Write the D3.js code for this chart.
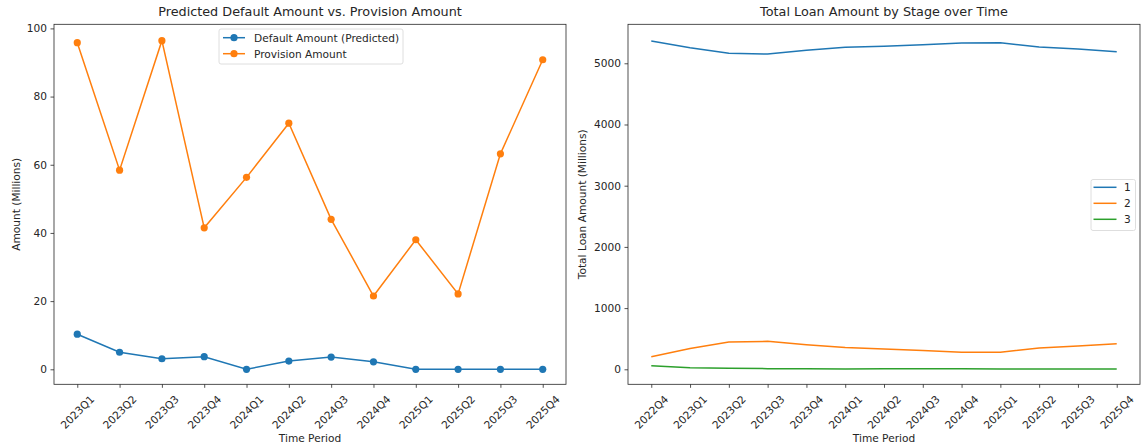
<!DOCTYPE html>
<html>
<head>
<meta charset="utf-8">
<script src="https://cdn.jsdelivr.net/npm/d3@7"></script>
<style>
  body { margin: 0; background: #fff; }
  svg { display: block; font-family: "DejaVu Sans", sans-serif; }
</style>
</head>
<body>
<svg id="chart" width="1141" height="448"></svg>
<script>
// ---- Data ----
const periodsLeft = ["2023Q1","2023Q2","2023Q3","2023Q4","2024Q1","2024Q2","2024Q3","2024Q4","2025Q1","2025Q2","2025Q3","2025Q4"];
const defaultAmount = [10.3, 5.0, 3.1, 3.7, 0.0, 2.4, 3.6, 2.2, 0.0, 0.0, 0.0, 0.0];
const provisionAmount = [95.8, 58.4, 96.4, 41.5, 56.3, 72.2, 44.0, 21.5, 38.0, 22.1, 63.2, 90.8];
const leftYTicks = [0, 20, 40, 60, 80, 100];

const periodsRight = ["2022Q4","2023Q1","2023Q2","2023Q3","2023Q4","2024Q1","2024Q2","2024Q3","2024Q4","2025Q1","2025Q2","2025Q3","2025Q4"];
const stage1 = [5363, 5255, 5163, 5152, 5212, 5261, 5277, 5304, 5333, 5337, 5266, 5233, 5190];
const stage2 = [204, 339, 446, 457, 403, 355, 333, 306, 280, 280, 349, 382, 419];
const stage3 = [59, 27, 16, 11, 11, 5, 10, 11, 8, 4, 4, 3, 3];
const stageNames = ["1", "2", "3"];
const rightYTicks = [0, 1000, 2000, 3000, 4000, 5000];

const C = ["#1f77b4", "#ff7f0e", "#2ca02c"];
const svg = d3.select("#chart");
const textColor = "#262626";
const FS = 10.6, TFS = 12.8;

function panel(opts) {
  const { x0, x1, y0, y1, cats, yDomain, yTicks, title, ylabel, ylabelX } = opts;
  const n = cats.length;
  const x = d3.scaleLinear().domain([-0.05*(n-1), (n-1)*1.05]).range([x0, x1]);
  const y = d3.scaleLinear().domain(yDomain).range([y1, y0]);
  const g = svg.append("g");

  // Y axis
  const ya = g.append("g").attr("transform", `translate(${x0},0)`)
    .call(d3.axisLeft(y).tickValues(yTicks).tickSize(3.5).tickPadding(3.5).tickFormat(d3.format("d")));
  ya.select(".domain").remove();
  ya.selectAll("text").attr("font-size", FS).attr("fill", textColor).attr("font-family", "DejaVu Sans");
  ya.selectAll("line").attr("stroke", textColor).attr("stroke-width", 0.8);

  // X axis
  const xa = g.append("g").attr("transform", `translate(0,${y1})`)
    .call(d3.axisBottom(x).tickValues(d3.range(n)).tickSize(3.5).tickFormat(""));
  xa.select(".domain").remove();
  xa.selectAll("line").attr("stroke", textColor).attr("stroke-width", 0.8);
  const labels = g.append("g");
  cats.forEach((c, i) => {
    const t = labels.append("text").text(c)
      .attr("font-size", FS).attr("fill", textColor)
      .attr("text-anchor", "middle").attr("dominant-baseline", "central");
    const len = t.node().getComputedTextLength();
    const cy = y1 + 9 + (len + FS) * Math.SQRT1_2 / 2;
    t.attr("transform", `translate(${x(i)},${cy}) rotate(-45)`);
  });

  // Frame
  g.append("rect").attr("x", x0).attr("y", y0).attr("width", x1 - x0).attr("height", y1 - y0)
    .attr("fill", "none").attr("stroke", textColor).attr("stroke-width", 0.8);

  // Title & labels
  g.append("text").attr("x", (x0 + x1) / 2).attr("y", y0 - 8).attr("text-anchor", "middle")
    .attr("font-size", TFS).attr("fill", textColor).text(title);
  g.append("text").attr("x", (x0 + x1) / 2).attr("y", 442).attr("text-anchor", "middle")
    .attr("font-size", FS).attr("fill", textColor).text("Time Period");
  g.append("text").attr("transform", `translate(${ylabelX},${(y0 + y1) / 2}) rotate(-90)`)
    .attr("text-anchor", "middle").attr("dominant-baseline", "central")
    .attr("font-size", FS).attr("fill", textColor).text(ylabel);
  return { g, x, y };
}

// ---- Left panel ----
const L = panel({ x0: 54, x1: 566, y0: 24.3, y1: 384.3, cats: periodsLeft,
  yDomain: [-4.4, 101.2], yTicks: leftYTicks,
  title: "Predicted Default Amount vs. Provision Amount", ylabel: "Amount (Millions)", ylabelX: 16 });
const lineL = d3.line().x((d, i) => L.x(i)).y(d => L.y(d));
[[defaultAmount, C[0]], [provisionAmount, C[1]]].forEach(([vals, col]) => {
  L.g.append("path").attr("d", lineL(vals)).attr("fill", "none").attr("stroke", col).attr("stroke-width", 1.5);
  L.g.selectAll(null).data(vals).enter().append("circle")
    .attr("cx", (d, i) => L.x(i)).attr("cy", d => L.y(d)).attr("r", 3.6).attr("fill", col);
});
// Left legend
const lg = L.g.append("g");
lg.append("rect").attr("x", 219).attr("y", 29).attr("width", 184).attr("height", 35).attr("rx", 2)
  .attr("fill", "#fff").attr("fill-opacity", 0.8).attr("stroke", "#d6d6d6").attr("stroke-width", 0.8);
[["Default Amount (Predicted)", C[0], 37.7], ["Provision Amount", C[1], 53.7]].forEach(([name, col, yy]) => {
  lg.append("line").attr("x1", 223).attr("x2", 245).attr("y1", yy).attr("y2", yy).attr("stroke", col).attr("stroke-width", 1.5);
  lg.append("circle").attr("cx", 234).attr("cy", yy).attr("r", 3.6).attr("fill", col);
  lg.append("text").attr("x", 254).attr("y", yy).attr("dominant-baseline", "central")
    .attr("font-size", FS).attr("fill", textColor).text(name);
});

// ---- Right panel ----
const R = panel({ x0: 628, x1: 1140, y0: 24.3, y1: 384.3, cats: periodsRight,
  yDomain: [-245, 5637], yTicks: rightYTicks,
  title: "Total Loan Amount by Stage over Time", ylabel: "Total Loan Amount (Millions)", ylabelX: 582 });
const lineR = d3.line().x((d, i) => R.x(i)).y(d => R.y(d));
[stage1, stage2, stage3].forEach((vals, k) => {
  R.g.append("path").attr("d", lineR(vals)).attr("fill", "none").attr("stroke", C[k]).attr("stroke-width", 1.5);
});
const rg = R.g.append("g");
rg.append("rect").attr("x", 1091).attr("y", 179.5).attr("width", 44.5).attr("height", 51).attr("rx", 2)
  .attr("fill", "#fff").attr("fill-opacity", 0.8).attr("stroke", "#d6d6d6").attr("stroke-width", 0.8);
stageNames.forEach((name, k) => {
  const yy = 187.3 + 16 * k;
  rg.append("line").attr("x1", 1093.5).attr("x2", 1116.5).attr("y1", yy).attr("y2", yy).attr("stroke", C[k]).attr("stroke-width", 1.5);
  rg.append("text").attr("x", 1124).attr("y", yy).attr("dominant-baseline", "central")
    .attr("font-size", FS).attr("fill", textColor).text(name);
});
</script>
</body>
</html>
